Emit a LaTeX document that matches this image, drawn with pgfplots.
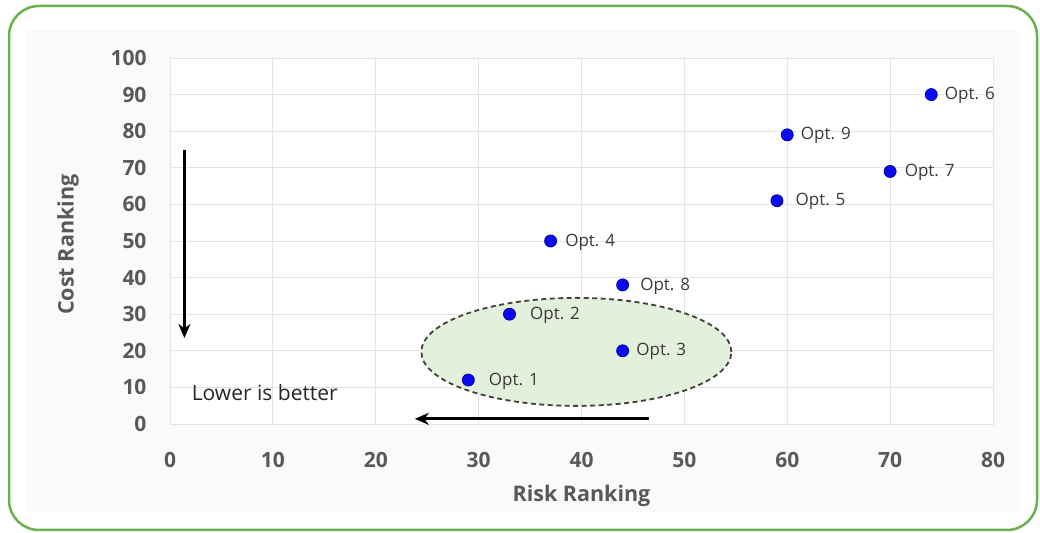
\documentclass[border=0pt]{standalone}
\usepackage{pgfplots}
\pgfplotsset{compat=1.18}
\usepackage{pgfplotstable}
\usepackage{fontspec}
\setmainfont{Open Sans}
\usetikzlibrary{arrows.meta}

\definecolor{txtgrey}{HTML}{595959}
\definecolor{lblgrey}{HTML}{3A3A3A}
\definecolor{gridgrey}{HTML}{E4E4E4}
\definecolor{framegreen}{HTML}{6AB04C}
\definecolor{dotblue}{HTML}{0A0AF0}
\definecolor{dotedge}{HTML}{0000A8}
\definecolor{zonegreen}{HTML}{E3F1DC}
\definecolor{areagrey}{HTML}{FAFAFA}

% risk ranking, cost ranking, label offset, option name
\pgfplotstableread[col sep=comma]{
x,y,dx,label
29,12,17,Opt. 1
33,30,17,Opt. 2
44,20,10,Opt. 3
37,50,11,Opt. 4
59,61,15,Opt. 5
74,90,10,Opt. 6
70,69,11,Opt. 7
44,38,14,Opt. 8
60,79,10,Opt. 9
}\options

\begin{document}
\begin{tikzpicture}[x=1bp,y=1bp]
  % page size and frame
  \path (0,0) rectangle (1040,533);
  \fill[areagrey] (27,21) rectangle (1020,503);
  \draw[framegreen, line width=2.5bp, rounded corners=30bp] (9,3) rectangle (1037,527);

  \begin{axis}[
    scale only axis,
    width=823bp, height=366bp,
    at={(170bp,109bp)}, anchor=south west,
    xmin=0, xmax=80, ymin=0, ymax=100,
    xtick={0,10,...,80}, ytick={0,10,...,100},
    grid=major,
    grid style={gridgrey, line width=0.8bp},
    axis line style={gridgrey, line width=0.8bp},
    axis background/.style={fill=white},
    major tick length=0pt,
    clip=false,
    /pgf/number format/assume math mode=true,
    ticklabel style={font=\fontsize{21bp}{24bp}\selectfont\bfseries, text=txtgrey},
    yticklabel style={xshift=-20bp},
    xticklabel style={yshift=-25bp},
    xlabel={Risk Ranking},
    ylabel={Cost Ranking},
    label style={font=\fontsize{21.5bp}{25bp}\selectfont\bfseries, text=txtgrey},
    xlabel style={at={(rel axis cs:0.5,0)}, anchor=center, yshift=-72bp},
    ylabel style={at={(rel axis cs:0,0.49)}, anchor=center, yshift=102bp},
  ]
    % highlighted group of preferred options
    \fill[zonegreen] (axis cs:39.5,19.7) ellipse [x radius=155bp, y radius=54bp];

    \addplot[
      only marks,
      mark=*,
      mark size=6bp,
      mark options={fill=dotblue, draw=dotedge, line width=0.8bp},
      visualization depends on={\thisrow{dx}\as\labdx},
      point meta=explicit symbolic,
      nodes near coords,
      nodes near coords style={anchor=west, xshift=\labdx pt, yshift=-1bp,
        font=\fontsize{17bp}{20bp}\selectfont, text=lblgrey},
    ] table[x=x, y=y, meta=label] {\options};

    \draw[draw=black!75, line width=1.8bp, dash pattern=on 5bp off 3.5bp]
      (axis cs:39.5,19.7) ellipse [x radius=155bp, y radius=54bp];

    % direction arrows
    \draw[line width=3bp, -{Stealth[length=14bp, width=12bp]}]
      (axis cs:1.4,74.9) -- (axis cs:1.4,23.5);
    \draw[line width=3bp, -{Stealth[length=14bp, width=12bp]}]
      (axis cs:46.6,1.4) -- (axis cs:23.8,1.4);
    \node[anchor=west, inner sep=0pt, font=\fontsize{21bp}{24bp}\selectfont, text=black!85]
      at (axis cs:2.1,8.5) {Lower is better};
  \end{axis}
\end{tikzpicture}
\end{document}
